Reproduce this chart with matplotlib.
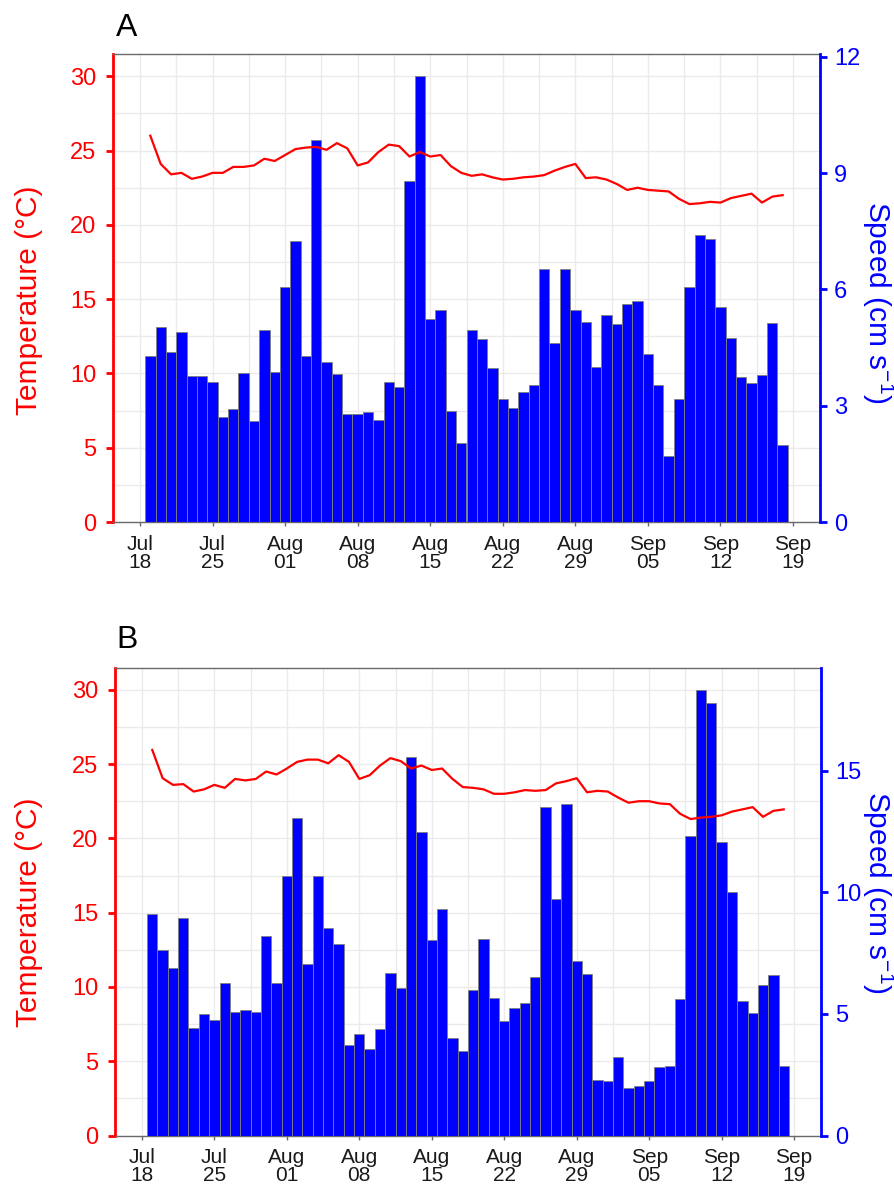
import matplotlib
matplotlib.use("Agg")
import matplotlib.pyplot as plt
import matplotlib.dates as mdates
import numpy as np
import pandas as pd

plt.rcParams['font.family'] = ['Liberation Sans', 'DejaVu Sans']
plt.rcParams['mathtext.fontset'] = 'custom'
plt.rcParams['mathtext.rm'] = 'Liberation Sans'
plt.rcParams['mathtext.it'] = 'Liberation Sans:italic'
plt.rcParams['mathtext.bf'] = 'Liberation Sans:bold'

# Daily series, 19 Jul - 18 Sep
days = pd.date_range('2016-07-19', '2016-09-18', freq='D')
tick_dates = pd.date_range('2016-07-18', '2016-09-19', freq='7D')

# Panel A
temp_a = [26.0, 24.1, 23.4, 23.5, 23.1, 23.25, 23.5, 23.5, 23.9, 23.9,
          24.0, 24.45, 24.3, 24.7, 25.1, 25.2, 25.25, 25.05, 25.5, 25.15,
          24.0, 24.2, 24.9, 25.4, 25.3, 24.6, 24.9, 24.6, 24.7, 23.95,
          23.5, 23.3, 23.4, 23.2, 23.05, 23.1, 23.2, 23.25, 23.35, 23.65,
          23.9, 24.1, 23.15, 23.2, 23.05, 22.75, 22.35, 22.5, 22.35, 22.3,
          22.25, 21.75, 21.4, 21.45, 21.55, 21.5, 21.8, 21.95, 22.1, 21.5,
          21.9, 22.0]
speed_a = [4.27, 5.04, 4.39, 4.89, 3.77, 3.77, 3.60, 2.72, 2.91, 3.84,
           2.61, 4.94, 3.86, 6.07, 7.25, 4.29, 9.86, 4.13, 3.82, 2.78,
           2.78, 2.84, 2.63, 3.60, 3.48, 8.80, 11.49, 5.23, 5.47, 2.85,
           2.03, 4.94, 4.73, 3.96, 3.16, 2.95, 3.34, 3.54, 6.52, 4.61,
           6.52, 5.46, 5.17, 4.01, 5.35, 5.11, 5.63, 5.70, 4.33, 3.54,
           1.71, 3.16, 6.07, 7.39, 7.30, 5.54, 4.75, 3.75, 3.58, 3.79,
           5.13, 1.99]

# Panel B
temp_b = [25.95, 24.05, 23.6, 23.65, 23.15, 23.3, 23.6, 23.4, 24.0, 23.9,
          24.0, 24.5, 24.3, 24.7, 25.15, 25.3, 25.3, 25.05, 25.6, 25.15,
          24.0, 24.25, 24.9, 25.4, 25.2, 24.7, 24.9, 24.6, 24.7, 24.0,
          23.45, 23.4, 23.3, 23.0, 23.0, 23.1, 23.25, 23.2, 23.25, 23.7,
          23.85, 24.05, 23.1, 23.2, 23.15, 22.75, 22.4, 22.5, 22.5, 22.35,
          22.3, 21.65, 21.3, 21.4, 21.45, 21.55, 21.8, 21.95, 22.1, 21.45,
          21.85, 21.95]
speed_b = [9.10, 7.63, 6.90, 8.96, 4.41, 5.01, 4.75, 6.26, 5.09, 5.17,
           5.07, 8.20, 6.28, 10.68, 13.07, 7.07, 10.68, 8.52, 7.86, 3.71,
           4.17, 3.54, 4.38, 6.67, 6.08, 15.58, 12.49, 8.04, 9.31, 4.02,
           3.49, 5.98, 8.07, 5.64, 4.72, 5.26, 5.46, 6.53, 13.50, 9.72,
           13.63, 7.18, 6.65, 2.28, 2.25, 3.24, 1.97, 2.05, 2.24, 2.82,
           2.87, 5.60, 12.33, 18.32, 17.80, 12.07, 10.00, 5.54, 5.05, 6.18,
           6.60, 2.84]

temp_ticks = [0, 5, 10, 15, 20, 25, 30]
speed_ticks_a = [0, 3, 6, 9, 12]
speed_ticks_b = [0, 5, 10, 15]

RED = '#ff0000'
BLUE = '#0000ff'
GRID = '#ebebeb'
FRAME = '#6a6a6a'
W, H = 894, 1186

fig = plt.figure(figsize=(W / 100, H / 100), dpi=100)


def px_box(left, top, right, bottom):
    return [left / W, 1 - bottom / H, (right - left) / W, (bottom - top) / H]


def panel(box, temp, speed, speed_ticks, speed_max, letter, letter_xy,
          left_label_y, right_label_y):
    ax = fig.add_axes(box)
    ax2 = ax.twinx()
    ax3 = ax.twinx()
    ax.set_zorder(1)
    ax2.set_zorder(2)
    ax3.set_zorder(3)
    ax2.patch.set_visible(False)
    ax3.patch.set_visible(False)

    x0 = mdates.date2num(tick_dates[0]) - 2.6
    x1 = mdates.date2num(tick_dates[-1]) + 2.6
    for a in (ax, ax2, ax3):
        a.set_xlim(x0, x1)

    # grid on the temperature axis (every 2.5 degC, every 3.5 days)
    ax.set_ylim(0, 31.5)
    ax.set_yticks(temp_ticks)
    ax.set_yticks(np.arange(2.5, 31, 5), minor=True)
    ax.set_xticks(mdates.date2num(tick_dates))
    half = mdates.date2num(tick_dates[:-1]) + 3.5
    ax.set_xticks(half, minor=True)
    ax.xaxis.set_major_formatter(mdates.DateFormatter('%b\n%d'))
    ax.grid(True, which='both', color=GRID, linewidth=1.0)
    ax.set_axisbelow(True)

    # speed bars
    ax2.bar(mdates.date2num(days), speed, width=1.0, color=BLUE,
            edgecolor='#808080', linewidth=0.6, align='center')
    ax2.set_ylim(0, speed_max)
    ax2.set_yticks(speed_ticks)

    # temperature line
    ax3.plot(mdates.date2num(days), temp, color=RED, linewidth=1.6)
    ax3.set_ylim(ax.get_ylim())
    ax3.axis('off')

    # spines
    ax.spines['left'].set_color(RED)
    ax.spines['left'].set_linewidth(2.0)
    ax.spines['right'].set_visible(False)
    for s in ('top', 'bottom'):
        ax.spines[s].set_color(FRAME)
        ax.spines[s].set_linewidth(1.0)
    for s in ('left', 'top', 'bottom'):
        ax2.spines[s].set_visible(False)
    ax2.spines['right'].set_color(BLUE)
    ax2.spines['right'].set_linewidth(2.0)

    ax.tick_params(axis='y', which='major', colors=RED, labelsize=17,
                   length=5, width=2, pad=7)
    ax.tick_params(axis='y', which='minor', length=0)
    ax.tick_params(axis='x', which='major', colors=FRAME, labelcolor='#1a1a1a',
                   labelsize=15, length=3, width=1, pad=6)
    ax.tick_params(axis='x', which='minor', length=0)
    for t in ax.get_xticklabels():
        t.set_linespacing(0.95)
    ax2.tick_params(axis='y', colors=BLUE, labelsize=17, length=5, width=2,
                    pad=5)

    fig.text(29 / W, 1 - left_label_y / H, 'Temperature (°C)', color=RED,
             fontsize=21.5, rotation=90, ha='center', va='center')
    fig.text(878 / W, 1 - right_label_y / H, r'Speed (cm s$^{\mathrm{-1}}$)',
             color=BLUE, fontsize=21.5, rotation=-90, ha='center',
             va='center')
    fig.text(letter_xy[0] / W, 1 - letter_xy[1] / H, letter, fontsize=23,
             ha='left', va='baseline', color='black')


panel(px_box(113, 54, 820, 522), temp_a, speed_a, speed_ticks_a, 12.07,
      'A', (116, 36), 300, 302)
panel(px_box(115, 667.5, 821, 1135.5), temp_b, speed_b, speed_ticks_b, 19.24,
      'B', (116, 648), 912, 892)

fig.savefig('out.png', dpi=100)
